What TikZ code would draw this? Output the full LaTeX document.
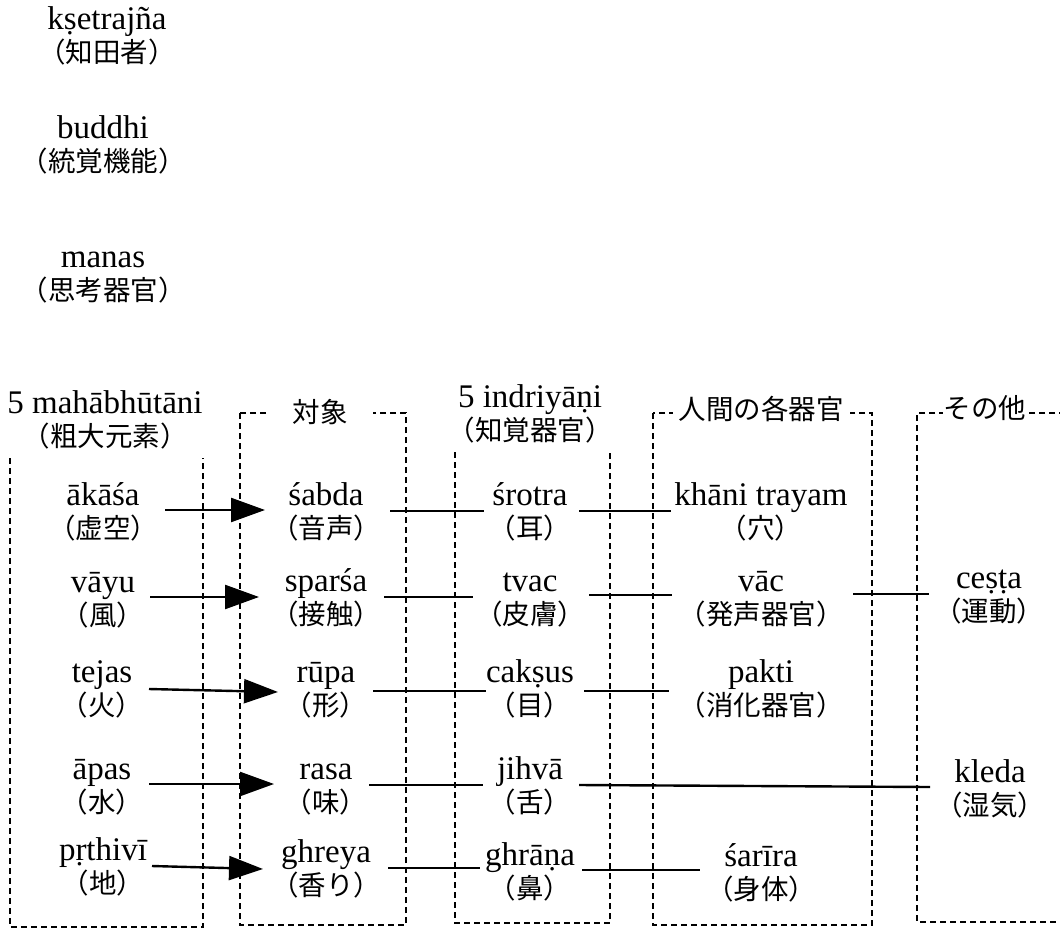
\documentclass[tikz,border=0pt]{standalone}
\usepackage{fontspec}
\setmainfont{Liberation Serif}
\newfontfamily\jpfont{Noto Sans CJK JP}
\usetikzlibrary{arrows.meta}
\newcommand\jp[1]{{\jpfont\fontsize{27.5}{33}\selectfont #1\rule[-5pt]{0pt}{5pt}}}
\newcommand\lt[1]{\rule{0pt}{28pt}#1}
\tikzset{
  item/.style={align=center, inner sep=0pt, font=\fontsize{33}{33}\selectfont},
  conn/.style={line width=2.4pt},
  arr/.style={conn, -{Triangle[length=34pt,width=24pt]}},
  dotbox/.style={line width=2.3pt, dash pattern=on 6pt off 4pt},
  boxlab/.style={fill=white, inner ysep=2pt, font=\jpfont\fontsize{27.5}{33}\selectfont},
}
\begin{document}
\begin{tikzpicture}[x=1pt,y=-1pt]
\useasboundingbox (0,0) rectangle (1060,929);
% dotted boxes
\draw[dotbox] (10,458) -- (10,927) -- (203,927) -- (203,458);
\draw[dotbox] (240,413) rectangle (406,925);
\draw[dotbox] (455,452) -- (455,923) -- (610,923) -- (610,452);
\draw[dotbox] (653,413) rectangle (872,925);
\draw[dotbox] (1075,413) -- (917,413) -- (917,922) -- (1075,922);
% box labels
\node[boxlab, inner xsep=25pt] (obj) at (320,412) {対象};
\node[boxlab, inner xsep=6pt] (hum) at (761,409) {人間の各器官};
\node[boxlab, inner xsep=1pt] (oth) at (985,408) {その他};
% top items
\node[item] (kse) at (107,34) {\lt{kṣetrajña}\\\jp{（知田者）}};
\node[item] (bud) at (103,143) {\lt{buddhi}\\\jp{（統覚機能）}};
\node[item] (man) at (103,272) {\lt{manas}\\\jp{（思考器官）}};
% headers
\node[item] (mah) at (105,418) {\lt{5 mahābhūtāni}\\\jp{（粗大元素）}};
\node[item] (ind) at (530,412) {\lt{5 indriyāṇi}\\\jp{（知覚器官）}};
% row 1
\node[item] (ak)  at (103,510) {\lt{ākāśa}\\\jp{（虚空）}};
\node[item] (sab) at (326,510) {\lt{śabda}\\\jp{（音声）}};
\node[item] (sro) at (530,510) {\lt{śrotra}\\\jp{（耳）}};
\node[item] (kha) at (761,510) {\lt{khāni trayam}\\\jp{（穴）}};
% row 2
\node[item] (vay) at (103,597) {\lt{vāyu}\\\jp{（風）}};
\node[item] (spa) at (326,596) {\lt{sparśa}\\\jp{（接触）}};
\node[item] (tva) at (530,596) {\lt{tvac}\\\jp{（皮膚）}};
\node[item] (vac) at (761,596) {\lt{vāc}\\\jp{（発声器官）}};
\node[item] (ces) at (989,593) {\lt{ceṣṭa}\\\jp{（運動）}};
% row 3
\node[item] (tej) at (102,687) {\lt{tejas}\\\jp{（火）}};
\node[item] (rup) at (326,687) {\lt{rūpa}\\\jp{（形）}};
\node[item] (cak) at (530,687) {\lt{cakṣus}\\\jp{（目）}};
\node[item] (pak) at (761,687) {\lt{pakti}\\\jp{（消化器官）}};
% row 4
\node[item] (apa) at (102,784) {\lt{āpas}\\\jp{（水）}};
\node[item] (ras) at (326,784) {\lt{rasa}\\\jp{（味）}};
\node[item] (jih) at (530,784) {\lt{jihvā}\\\jp{（舌）}};
\node[item] (kle) at (990,787) {\lt{kleda}\\\jp{（湿気）}};
% row 5
\node[item] (prt) at (103,865) {\lt{pṛthivī}\\\jp{（地）}};
\node[item] (ghr) at (326,867) {\lt{ghreya}\\\jp{（香り）}};
\node[item] (gra) at (530,870) {\lt{ghrāṇa}\\\jp{（鼻）}};
\node[item] (sar) at (761,871) {\lt{śarīra}\\\jp{（身体）}};
% connectors row 1
\draw[arr]  ([shift={(62,0)}]ak.center) -- ([shift={(-61,0)}]sab.center);
\draw[conn] ([shift={(64,1)}]sab.center) -- ([shift={(-46,1)}]sro.center);
\draw[conn] ([shift={(49,1)}]sro.center) -- ([shift={(-90,1)}]kha.center);
% row 2
\draw[arr]  ([shift={(47,0)}]vay.center) -- ([shift={(-67,1)}]spa.center);
\draw[conn] ([shift={(58,1)}]spa.center) -- ([shift={(-57,1)}]tva.center);
\draw[conn] ([shift={(59,-1)}]tva.center) -- ([shift={(-89,-1)}]vac.center);
\draw[conn] ([shift={(92,-2)}]vac.center) -- ([shift={(-60,1)}]ces.center);
% row 3
\draw[arr]  ([shift={(47,2)}]tej.center) -- ([shift={(-48,5)}]rup.center);
\draw[conn] ([shift={(47,4)}]rup.center) -- ([shift={(-44,4)}]cak.center);
\draw[conn] ([shift={(54,4)}]cak.center) -- ([shift={(-92,4)}]pak.center);
% row 4
\draw[arr]  ([shift={(47,0)}]apa.center) -- ([shift={(-52,0)}]ras.center);
\draw[conn] ([shift={(43,1)}]ras.center) -- ([shift={(-47,1)}]jih.center);
\draw[conn] ([shift={(49,1)}]jih.center) -- ([shift={(-60,0)}]kle.center);
% row 5
\draw[arr]  ([shift={(49,1)}]prt.center) -- ([shift={(-63,2)}]ghr.center);
\draw[conn] ([shift={(62,1)}]ghr.center) -- ([shift={(-50,-2)}]gra.center);
\draw[conn] ([shift={(52,0)}]gra.center) -- ([shift={(-61,-1)}]sar.center);
\end{tikzpicture}
\end{document}
